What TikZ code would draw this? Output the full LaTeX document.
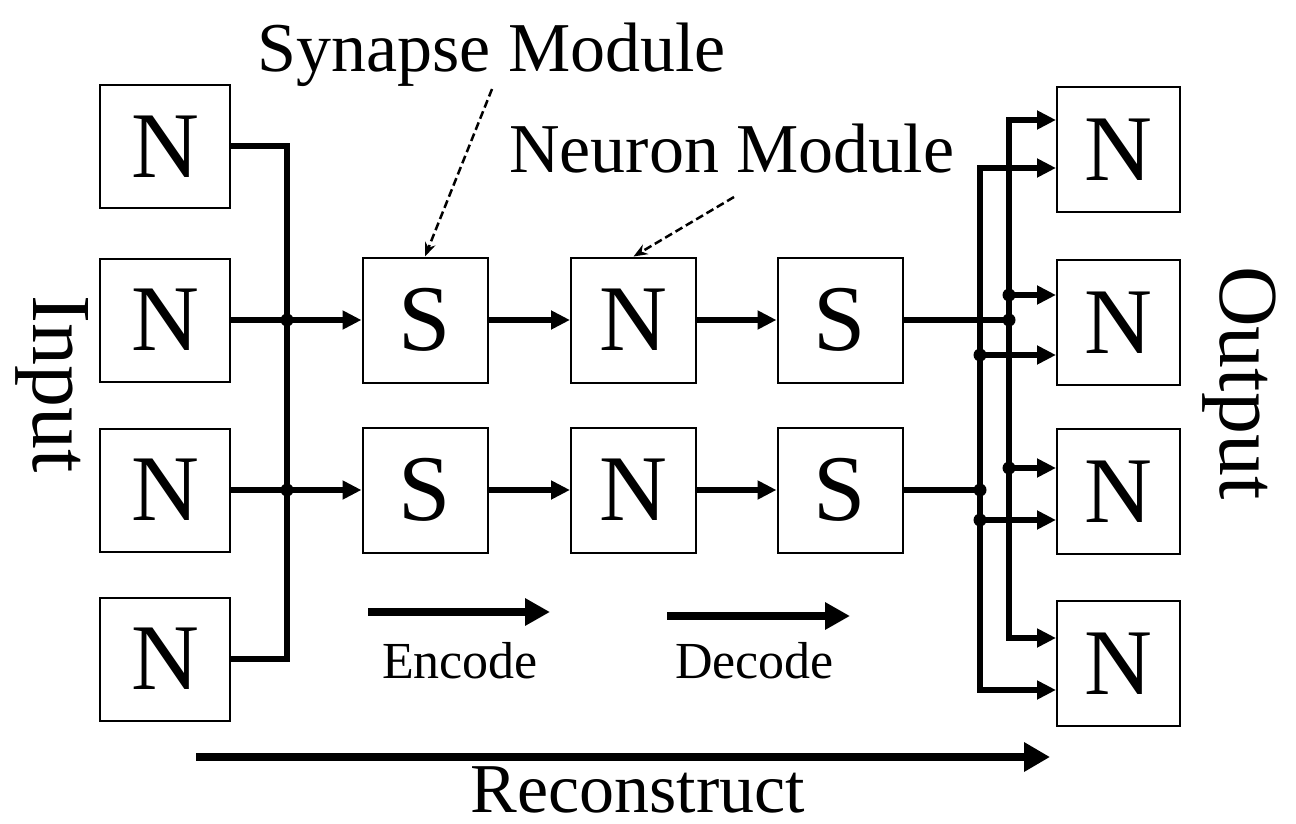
\documentclass[tikz,border=0pt]{standalone}
\usepackage{fontspec}
\setmainfont{Liberation Serif}
\usetikzlibrary{arrows.meta}
\begin{document}
\begin{tikzpicture}[x=1pt,y=-1pt,
  box/.style={draw, line width=2pt, inner sep=0pt, font=\fontsize{94pt}{100pt}\selectfont},
  lbox/.style={box, minimum width=130pt, minimum height=123pt},
  mbox/.style={box, minimum width=125pt, minimum height=125pt},
  rbox/.style={box, minimum width=123pt, minimum height=125pt},
  wire/.style={line width=6pt, line join=miter},
  arr/.style={wire, -{Triangle[length=19pt,width=18pt]}},
  dbl/.style={wire, {Triangle[length=19pt,width=18pt]}-{Triangle[length=19pt,width=18pt]}},
  dot/.style={circle, fill, inner sep=0pt, minimum size=13pt},
  midarr/.style={line width=7.5pt, -{Triangle[length=25pt,width=26pt]}},
  bigarr/.style={line width=8pt, -{Triangle[length=26pt,width=28pt]}},
  dasharr/.style={line width=2.5pt, dash pattern=on 8pt off 4pt, -{Stealth[length=14pt,width=11pt]}},
  lab/.style={font=\fontsize{70pt}{80pt}\selectfont, inner sep=0pt},
  slab/.style={font=\fontsize{52pt}{60pt}\selectfont, inner sep=0pt},
  rlab/.style={font=\fontsize{84pt}{90pt}\selectfont, inner sep=0pt, rotate=-90, anchor=base},
]
\useasboundingbox (0,0) rectangle (1296,824);
\fill[white] (0,0) rectangle (1296,824);

% input neurons
\node[lbox] (in1) at (165,146.5) {N};
\node[lbox] (in2) at (165,320) {N};
\node[lbox] (in3) at (165,490) {N};
\node[lbox] (in4) at (165,659) {N};

% middle modules
\node[mbox] (s1u) at (425,320) {S};
\node[mbox] (n1u) at (633.5,320) {N};
\node[mbox] (s2u) at (840,320) {S};
\node[mbox] (s1d) at (425,490) {S};
\node[mbox] (n1d) at (633.5,490) {N};
\node[mbox] (s2d) at (840,490) {S};

% output neurons
\node[rbox] (o1) at (1118.5,149.5) {N};
\node[rbox] (o2) at (1118.5,322.5) {N};
\node[rbox] (o3) at (1118.5,491.5) {N};
\node[rbox] (o4) at (1118.5,663.5) {N};

% bus coordinates
\coordinate (lbus) at (287,0);
\coordinate (rbusR) at (1009,0);
\coordinate (rbusL) at (980,0);

% output arrow tips
\coordinate (o1a) at ([yshift=29.5pt]o1.west);
\coordinate (o1b) at ([yshift=-18.5pt]o1.west);
\coordinate (o2a) at ([yshift=27.5pt]o2.west);
\coordinate (o2b) at ([yshift=-32.5pt]o2.west);
\coordinate (o3a) at ([yshift=23.5pt]o3.west);
\coordinate (o3b) at ([yshift=-28.5pt]o3.west);
\coordinate (o4a) at ([yshift=25.5pt]o4.west);
\coordinate (o4b) at ([yshift=-26.5pt]o4.west);

% left bus
\draw[wire] (in1.east) -- (in1.east -| lbus) -- (in4.east -| lbus) -- (in4.east);
\draw[arr] (in2.east) -- (s1u.west);
\draw[arr] (in3.east) -- (s1d.west);
\node[dot] (dl1) at (in2.east -| lbus) {};
\node[dot] (dl2) at (in3.east -| lbus) {};

% chains
\draw[arr] (s1u.east) -- (n1u.west);
\draw[arr] (n1u.east) -- (s2u.west);
\draw[arr] (s1d.east) -- (n1d.west);
\draw[arr] (n1d.east) -- (s2d.west);

% right buses
\draw[dbl] (o1a) -| (o4a -| rbusR) -- (o4a);
\draw[dbl] (o1b) -| (o4b -| rbusL) -- (o4b);
\draw[arr] (o2a -| rbusR) -- (o2a);
\draw[arr] (o2b -| rbusL) -- (o2b);
\draw[arr] (o3a -| rbusR) -- (o3a);
\draw[arr] (o3b -| rbusL) -- (o3b);
\draw[wire] (s2u.east) -- (s2u.east -| rbusR);
\draw[wire] (s2d.east) -- (s2d.east -| rbusL);
\node[dot] (dr1) at (o2a -| rbusR) {};
\node[dot] (dr2) at (s2u.east -| rbusR) {};
\node[dot] (dr3) at (o2b -| rbusL) {};
\node[dot] (dr4) at (o3a -| rbusR) {};
\node[dot] (dr5) at (s2d.east -| rbusL) {};
\node[dot] (dr6) at (o3b -| rbusL) {};

% labels
\node[lab, anchor=base west] (synlab) at (257,72) {Synapse Module};
\node[lab, anchor=base west] (neulab) at (509,172) {Neuron Module};
\coordinate (synS) at (492,89);
\coordinate (neuS) at (734,197);
\draw[dasharr] (synS) -- (s1u.north);
\draw[dasharr] (neuS) -- (n1u.north);

\node[rlab] (inlab) at (33,384) {Input};
\node[rlab] (outlab) at (1220,383) {Output};

% encode / decode / reconstruct
\coordinate (e0) at (368,612);
\coordinate (e1) at (550,612);
\coordinate (c0) at (667,616);
\coordinate (c1) at (850,616);
\draw[midarr] (e0) -- (e1);
\draw[midarr] (c0) -- (c1);
\node[slab, anchor=base] (enclab) at (460,678) {Encode};
\node[slab, anchor=base] (declab) at (754.5,678) {Decode};

\coordinate (r0) at (196,757);
\coordinate (r1) at (1050,757);
\draw[bigarr] (r0) -- (r1);
\node[lab, anchor=base] (reclab) at (638,812) {Reconstruct};
\end{tikzpicture}
\end{document}
